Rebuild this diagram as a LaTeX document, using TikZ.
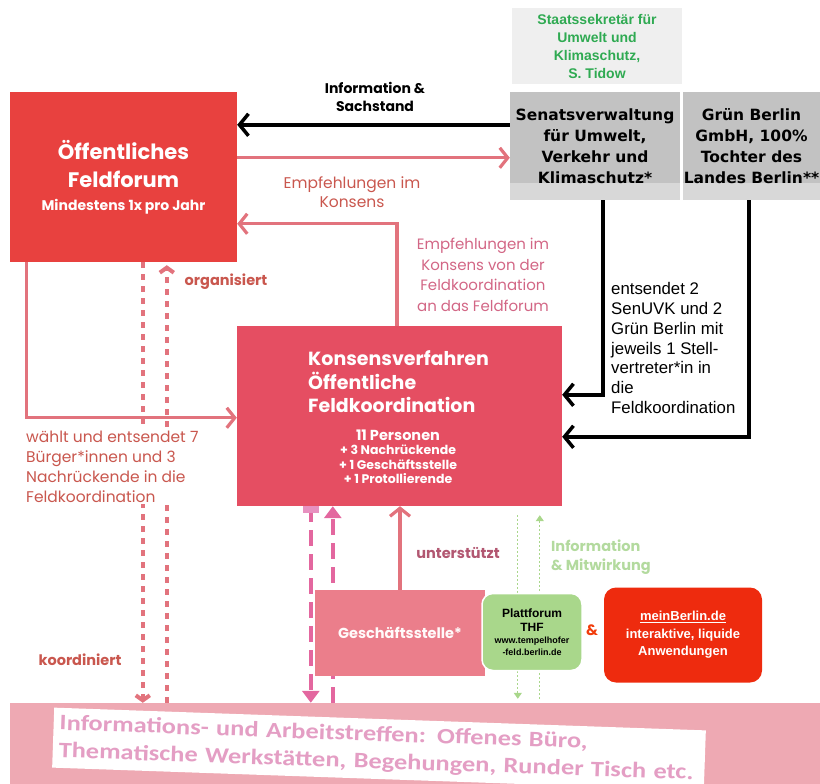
\documentclass[tikz,border=0pt]{standalone}
\usepackage{fontspec}
\setmainfont{Poppins}
\newfontfamily\verdfont{DejaVu Sans}
\newfontfamily\arialfont{Liberation Sans}
\newfontfamily\calfont[FakeStretch=1.2]{Carlito}
\usetikzlibrary{arrows.meta}
\definecolor{forumrot}{HTML}{E8413F}
\definecolor{konsrot}{HTML}{E54E62}
\definecolor{geschrosa}{HTML}{EB7E8B}
\definecolor{linienrosa}{HTML}{E2737D}
\definecolor{labelrot}{HTML}{C9574E}
\definecolor{labelrosa}{HTML}{D26685}
\definecolor{magenta}{HTML}{E3679F}
\definecolor{magentahell}{HTML}{E791C0}
\definecolor{thfgruen}{HTML}{A9D78B}
\definecolor{labelgruen}{HTML}{B3DA9E}
\definecolor{meinrot}{HTML}{EE2B0E}
\definecolor{senatgrau}{HTML}{C2C2C2}
\definecolor{senathell}{HTML}{D8D8D8}
\definecolor{staatsgrau}{HTML}{EFEFEF}
\definecolor{staatsgruen}{HTML}{2FAA52}
\definecolor{inforosa}{HTML}{EEA9B3}
\definecolor{infotext}{HTML}{E49EC4}
\begin{document}
\begin{tikzpicture}[x=1pt,y=-1pt,
    kasten/.style={rectangle,inner sep=0pt,align=center,text=white},
    grauband/.style={path picture={\fill[senathell] (path picture bounding box.south west)
        rectangle ([yshift=17pt]path picture bounding box.south east);}},
    schwarzpfeil/.style={line width=3.5pt,black,-{Straight Barb[length=9pt,width=22pt]}},
    rosapfeil/.style={line width=3.2pt,linienrosa,-{Straight Barb[length=8pt,width=20pt]}},
    punktpfeil/.style={line width=4pt,linienrosa,dash pattern=on 6pt off 6pt,-{Straight Barb[length=5pt,width=14pt]}},
    magentapfeil/.style={line width=4pt,magenta,dash pattern=on 16pt off 8pt,-{Triangle[length=12pt,width=17pt]}},
    gruenpfeil/.style={line width=1.2pt,thfgruen,dash pattern=on 2pt off 2pt,-{Triangle[length=6pt,width=8pt]}},
    beschriftung/.style={inner sep=0pt,align=left}]
\useasboundingbox (0,0) rectangle (820,784);

\node[kasten,fill=inforosa,minimum width=810pt,minimum height=81pt] (info) at (415,743.5) {};
\node[kasten,fill=white,rotate=-2,minimum width=652pt,minimum height=60pt,text width=640pt,align=left,
      text=infotext,font=\calfont\bfseries\fontsize{22}{27.5}\selectfont] (infotxt) at (379,749)
      {Informations- und Arbeitstreffen: Offenes Büro,\\Thematische Werkstätten, Begehungen, Runder Tisch etc.};

\node[kasten,fill=forumrot,minimum width=227pt,minimum height=170pt,font=\bfseries\fontsize{21}{28}\selectfont] (forum) at (123.5,177)
      {Öffentliches\\Feldforum\\[-5pt]{\fontsize{14}{14}\selectfont Mindestens 1x pro Jahr}};
\node[kasten,fill=staatsgrau,minimum width=170pt,minimum height=76pt,text=staatsgruen,
      font=\arialfont\bfseries\fontsize{14}{18}\selectfont] (staats) at (597,46)
      {Staatssekretär für\\Umwelt und\\Klimaschutz,\\S. Tidow};
\node[kasten,fill=senatgrau,grauband,minimum width=170pt,minimum height=108pt,text=black,
      font=\verdfont\bfseries\fontsize{15.5}{21}\selectfont] (senat) at (595,146)
      {Senatsverwaltung\\für Umwelt,\\Verkehr und\\Klimaschutz*};
\node[kasten,fill=senatgrau,grauband,minimum width=137pt,minimum height=108pt,text=black,
      font=\verdfont\bfseries\fontsize{15.5}{21}\selectfont] (gruen) at (751.5,146)
      {Grün Berlin\\GmbH, 100\%\\Tochter des\\Landes Berlin**};
\node[kasten,fill=konsrot,minimum width=325pt,minimum height=180pt] (kons) at (399.5,416) {};
\node[beschriftung,anchor=west,text=white,font=\bfseries\fontsize{19}{23.5}\selectfont] (konstitel) at (308,382)
      {Konsensverfahren\\Öffentliche\\Feldkoordination};
\node[beschriftung,align=center,text=white,font=\bfseries\fontsize{12.5}{14.5}\selectfont] (konsliste) at (398,457)
      {{\fontsize{14.5}{14.5}\selectfont 11 Personen}\\+ 3 Nachrückende\\+ 1 Geschäftsstelle\\+ 1 Protollierende};

\draw[schwarzpfeil] ([yshift=-33pt]senat.north west) -- ([yshift=-33pt]forum.north east);
\draw[rosapfeil] ([yshift=-66pt]forum.north east) -- ([yshift=-66pt]senat.north west);
\draw[rosapfeil] ([xshift=-2.5pt]kons.north) |- ([yshift=-132pt]forum.north east);
\draw[schwarzpfeil] ([xshift=8pt]senat.south) |- ([yshift=-69pt]kons.north east);
\draw[schwarzpfeil] ([xshift=-2.5pt]gruen.south) |- ([yshift=-111pt]kons.north east);
\draw[rosapfeil] ([xshift=17pt]forum.south west) |- ([yshift=-92pt]kons.north west);

\coordinate (fa) at ([xshift=133pt]forum.south west);
\coordinate (fb) at ([xshift=157pt]forum.south west);
\draw[punktpfeil] (fa) -- (fa |- info.north);
\draw[punktpfeil] (fb |- info.north) -- ([yshift=-3pt]fb);

\coordinate (ka) at ([xshift=74pt]kons.south west);
\coordinate (kb) at ([xshift=96pt]kons.south west);
\draw[magentapfeil] (ka) -- (ka |- info.north);
\fill[magentahell] ([xshift=-8pt]ka) rectangle ([xshift=8pt,yshift=-7pt]ka);
\draw[magentapfeil] (kb |- info.north) -- (kb);

\coordinate (ga) at ([xshift=281pt,yshift=-9pt]kons.south west);
\coordinate (gb) at ([xshift=303pt,yshift=-9pt]kons.south west);
\draw[gruenpfeil] (ga) -- ([yshift=4pt]ga |- info.north);
\draw[gruenpfeil] ([yshift=4pt]gb |- info.north) -- (gb);

\node[kasten,fill=geschrosa,minimum width=170pt,minimum height=86pt,text=white!92!pink,
      font=\bfseries\fontsize{14.5}{15}\selectfont] (gesch) at (400,633) {Geschäftsstelle*};
\node[kasten,fill=thfgruen,draw=white,line width=1.5pt,rounded corners=11pt,minimum width=100pt,minimum height=77pt,
      text=black,font=\arialfont\bfseries\fontsize{12}{14}\selectfont] (thf) at (532,632)
      {Plattforum\\THF\\[-2pt]{\fontsize{9}{12}\selectfont www.tempelhofer}\\[-2pt]{\fontsize{9}{12}\selectfont -feld.berlin.de}};
\node[kasten,fill=meinrot,rounded corners=12pt,minimum width=158pt,minimum height=95pt,
      font=\arialfont\bfseries\fontsize{13}{17.5}\selectfont] (mein) at (683,635)
      {\underline{meinBerlin.de}\\interaktive, liquide\\Anwendungen};
\draw[rosapfeil] (gesch.north) -- (gesch.north |- kons.south);

\node[beschriftung,align=center,font=\bfseries\fontsize{14}{18}\selectfont] (infolabel) at (375,97) {Information \&\\Sachstand};
\node[beschriftung,align=center,text=labelrot,font=\fontsize{15.5}{19}\selectfont] (empf) at (352,192) {Empfehlungen im\\Konsens};
\node[beschriftung,align=center,text=labelrosa,font=\fontsize{15}{20.5}\selectfont] (empfkons) at (483,275)
      {Empfehlungen im\\Konsens von der\\Feldkoordination\\an das Feldforum};
\node[beschriftung,anchor=west,font=\arialfont\fontsize{16.8}{19.7}\selectfont] (entsendet) at (611,348)
      {entsendet 2\\SenUVK und 2\\Grün Berlin mit\\jeweils 1 Stell-\\vertreter*in in\\die\\Feldkoordination};
\node[beschriftung,anchor=west,fill=white,inner ysep=1pt,text=labelrot,font=\fontsize{15.5}{20}\selectfont] (waehlt) at (26,467)
      {wählt und entsendet 7\\Bürger*innen und 3\\Nachrückende in die\\Feldkoordination};
\node[beschriftung,text=labelrot,font=\bfseries\fontsize{14.5}{14}\selectfont] (organisiert) at (226,282) {organisiert};
\node[beschriftung,text=labelrot,font=\bfseries\fontsize{14.5}{14}\selectfont] (koordiniert) at (80,660) {koordiniert};
\node[beschriftung,text=labelrosa!85!black,font=\bfseries\fontsize{14.5}{14}\selectfont] (unterstuetzt) at (458,553) {unterstützt};
\node[beschriftung,anchor=west,text=labelgruen,font=\bfseries\fontsize{14.5}{19}\selectfont] (mitwirkung) at (551,557)
      {Information\\\& Mitwirkung};
\node[beschriftung,text=meinrot!80!orange,font=\bfseries\fontsize{15}{14}\selectfont] (und) at (592,630) {\&};
\end{tikzpicture}
\end{document}
